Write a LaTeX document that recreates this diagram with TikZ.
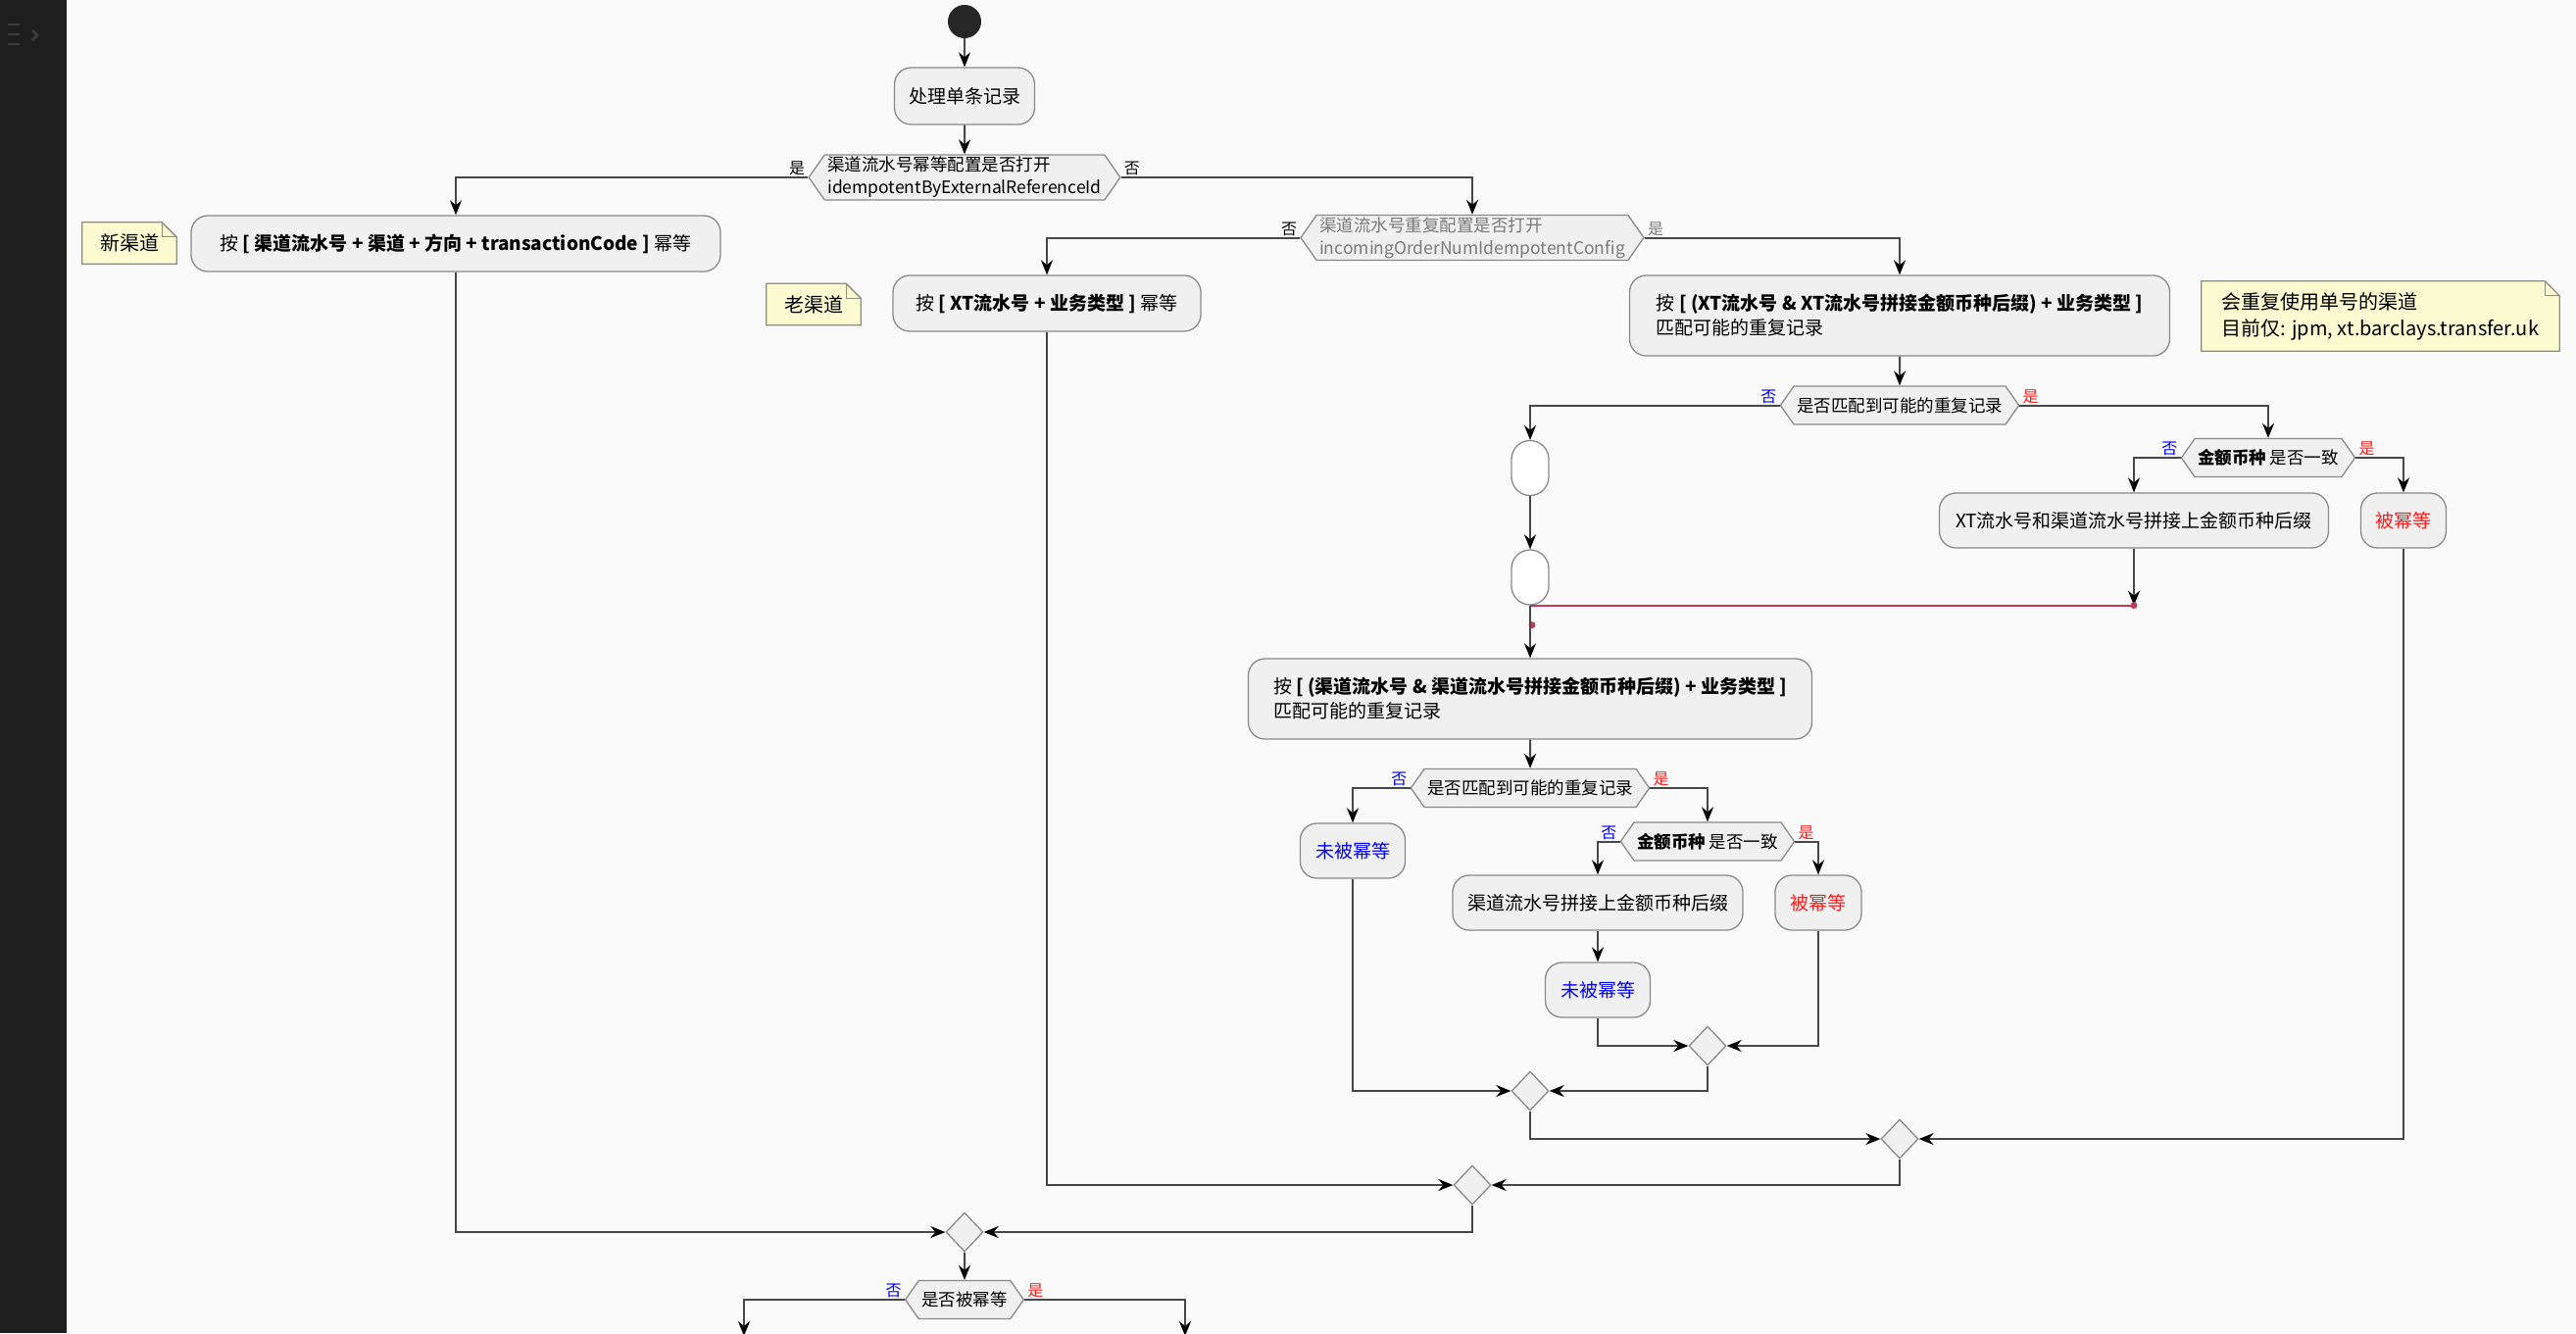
\documentclass[tikz,border=0pt]{standalone}
\usepackage{fontspec}
\setmainfont{Noto Sans CJK SC}
\usepackage{tikz}
\usetikzlibrary{positioning, shapes.geometric, shapes.symbols, arrows.meta, calc}
\usepackage{xcolor}
\definecolor{umlfill}{HTML}{F0F0F0}
\definecolor{umlline}{HTML}{8A8A8A}
\definecolor{flowline}{HTML}{474747}
\definecolor{umlgray}{HTML}{7A7A7A}
\definecolor{notefill}{HTML}{FCFBD2}
\definecolor{noteline}{HTML}{8E8E80}
\definecolor{pagebg}{HTML}{FAFAFA}
\definecolor{sidebar}{HTML}{1E1E1E}
\definecolor{iconline}{HTML}{3C3C3C}
\definecolor{linkred}{HTML}{C0395A}
\definecolor{labblue}{HTML}{0000FF}
\definecolor{labred}{HTML}{FF1A1A}

% yellow note with a folded corner
\newcommand{\dogear}[1]{%
  \fill[pagebg] ([xshift=-15pt]#1.north east) -- (#1.north east) -- ([yshift=-15pt]#1.north east) -- cycle;
  \draw[noteline, line width=1.3pt] (#1.south west) -- (#1.north west) -- ([xshift=-15pt]#1.north east)
    -- ([yshift=-15pt]#1.north east) -- (#1.south east) -- cycle;
  \draw[noteline, line width=1.3pt] ([xshift=-15pt]#1.north east) |- ([yshift=-15pt]#1.north east);
}

\begin{document}
\begin{tikzpicture}[x=1pt, y=-1pt, font=\fontsize{19}{25}\selectfont,
    act/.style={draw=umlline, fill=umlfill, line width=1.3pt, rounded corners=17pt,
      minimum height=56pt, inner xsep=14pt, align=left},
    hole/.style={draw=umlline, fill=white, line width=1.3pt, rounded corners=19pt,
      minimum width=38pt, minimum height=56pt, inner sep=0pt},
    cond/.style={signal, signal to=west and east, signal pointer angle=110,
      draw=umlline, fill=umlfill, line width=1.3pt, inner xsep=3pt, inner ysep=3pt,
      minimum height=39pt, align=left, font=\fontsize{17.5}{23}\selectfont},
    merge/.style={diamond, draw=umlline, fill=umlfill, line width=1.3pt,
      minimum width=38pt, minimum height=40pt, inner sep=0pt},
    memo/.style={fill=notefill, minimum height=42pt, inner xsep=9pt, align=left,
      font=\fontsize{20}{27}\selectfont},
    lblno/.style={text=labblue, inner sep=0pt, font=\fontsize{16}{16}\selectfont},
    lblyes/.style={text=labred, inner sep=0pt, font=\fontsize{16}{16}\selectfont},
    lblblk/.style={text=black, inner sep=0pt, font=\fontsize{16}{16}\selectfont},
    flow/.style={draw=flowline, line width=2pt, -{Stealth[length=15pt, width=12pt, inset=5pt, color=black]}},
    plain/.style={draw=flowline, line width=2pt}]

  \useasboundingbox (0,0) rectangle (2628,1360);
  \fill[pagebg] (0,0) rectangle (2628,1360);
  \fill[sidebar] (0,0) rectangle (68,1360);
  \foreach \yy in {25,35,45} \draw[iconline, line width=2.5pt] (8,\yy) -- (20,\yy);
  \draw[iconline, line width=2.5pt] (33,31) -- (38,36) -- (33,41);

  % main flow
  \node[circle, fill=black!85, minimum size=34pt, inner sep=0pt] (start) at (984,22) {};
  \node[act, minimum width=143pt, minimum height=58pt] (b0) at (984,98) {处理单条记录};
  \node[cond, inner ysep=2pt, minimum height=46pt] (d1) at (984,181)
    {渠道流水号幂等配置是否打开\\idempotentByExternalReferenceId};
  \node[lblblk, above left=2pt and 3pt of d1.west] (d1yes) {是};
  \node[lblblk, above right=2pt and 3pt of d1.east] (d1no) {否};

  \node[act, minimum width=540pt, minimum height=57pt] (b1) at (465,248.5)
    {按 \textbf{[ 渠道流水号 + 渠道 + 方向 + transactionCode ]} 幂等};
  \node[memo, minimum width=96pt] (n1) at (132,248) {新渠道};
  \dogear{n1}

  \node[cond, text=umlgray, inner ysep=2pt, minimum height=46pt] (d2) at (1502,242.5)
    {渠道流水号重复配置是否打开\\incomingOrderNumIdempotentConfig};
  \node[lblblk, above left=2pt and 3pt of d2.west] (d2no) {否};
  \node[lblblk, text=umlgray, above right=2pt and 3pt of d2.east] (d2yes) {是};

  \node[act, minimum width=314pt, minimum height=57pt] (b2) at (1068,309.5)
    {按 \textbf{[ XT流水号 + 业务类型 ]} 幂等};
  \node[memo, minimum width=96pt] (n2) at (830,310.5) {老渠道};
  \dogear{n2}

  \node[act, minimum width=551pt, minimum height=82pt] (b3) at (1938,322)
    {按 \textbf{[ (XT流水号 \& XT流水号拼接金额币种后缀) + 业务类型 ]}\\匹配可能的重复记录};
  \node[memo, minimum width=365pt, minimum height=71pt] (n3) at (2428.5,322.5)
    {会重复使用单号的渠道\\目前仅: jpm, xt.barclays.transfer.uk};
  \dogear{n3}

  % XT match branch
  \node[cond] (d3) at (1938,413.5) {是否匹配到可能的重复记录};
  \node[lblno, above left=2pt and 3pt of d3.west] (d3no) {否};
  \node[lblyes, above right=2pt and 3pt of d3.east] (d3yes) {是};
  \node[hole] (e1) at (1561,477.5) {};
  \node[hole] (e2) at (1561,589) {};
  \node[cond] (d4) at (2314,467) {\textbf{金额币种} 是否一致};
  \node[lblno, above left=2pt and 3pt of d4.west] (d4no) {否};
  \node[lblyes, above right=2pt and 3pt of d4.east] (d4yes) {是};
  \node[act, minimum width=397pt] (b4) at (2177,531) {XT流水号和渠道流水号拼接上金额币种后缀};
  \node[act, minimum width=87pt, text=labred] (b5) at (2452,531) {被幂等};

  % channel match branch
  \node[act, minimum width=575pt, minimum height=82pt] (b6) at (1561,713)
    {按 \textbf{[ (渠道流水号 \& 渠道流水号拼接金额币种后缀) + 业务类型 ]}\\匹配可能的重复记录};
  \node[cond] (d5) at (1561,804) {是否匹配到可能的重复记录};
  \node[lblno, above left=2pt and 3pt of d5.west] (d5no) {否};
  \node[lblyes, above right=2pt and 3pt of d5.east] (d5yes) {是};
  \node[act, minimum width=107pt, text=labblue] (b7) at (1380,868) {未被幂等};
  \node[cond] (d6) at (1742,858.5) {\textbf{金额币种} 是否一致};
  \node[lblno, above left=2pt and 3pt of d6.west] (d6no) {否};
  \node[lblyes, above right=2pt and 3pt of d6.east] (d6yes) {是};
  \node[act, minimum width=296pt] (b8) at (1630,921) {渠道流水号拼接上金额币种后缀};
  \node[act, minimum width=88pt, text=labred] (b9) at (1855,921) {被幂等};
  \node[act, minimum width=107pt, text=labblue] (b10) at (1630,1010) {未被幂等};

  % merges
  \node[merge] (m1) at (1742,1067) {};
  \node[merge] (m2) at (1561,1113) {};
  \node[merge] (m3) at (1938,1162) {};
  \node[merge] (m4) at (1502,1209) {};
  \node[merge] (m5) at (984,1257) {};
  \node[cond] (d7) at (984,1326) {是否被幂等};
  \node[lblno, above left=2pt and 3pt of d7.west] (d7no) {否};
  \node[lblyes, above right=2pt and 3pt of d7.east] (d7yes) {是};
  \coordinate (out1) at (759,1363);
  \coordinate (out2) at (1209,1363);
  \coordinate (rj) at (b4.south |- e2.south);

  % connectors
  \draw[flow] (start) -- (b0);
  \draw[flow] (b0) -- (d1);
  \draw[flow] (d1.west) -| (b1);
  \draw[flow] (d1.east) -| (d2);
  \draw[flow] (d2.west) -| (b2);
  \draw[flow] (d2.east) -| (b3);
  \draw[flow] (b3) -- (d3);
  \draw[flow] (d3.west) -| (e1);
  \draw[flow] (e1) -- (e2);
  \draw[flow] (d3.east) -| (d4);
  \draw[flow] (d4.west) -| (b4);
  \draw[flow] (d4.east) -| (b5);
  \draw[linkred, line width=2pt] (e2.south) -- (rj);
  \draw[flow] (b4) -- (rj);
  \fill[linkred] (rj) circle (3.5pt);
  \fill[linkred] ($(e2.south)+(2,20)$) circle (3.5pt);
  \draw[flow] (e2) -- (b6);
  \draw[flow] (b6) -- (d5);
  \draw[flow] (d5.west) -| (b7);
  \draw[flow] (d5.east) -| (d6);
  \draw[flow] (d6.west) -| (b8);
  \draw[flow] (d6.east) -| (b9);
  \draw[flow] (b8) -- (b10);
  \draw[flow] (b10) |- (m1);
  \draw[flow] (b9) |- (m1);
  \draw[flow] (m1) |- (m2);
  \draw[flow] (b7) |- (m2);
  \draw[flow] (m2) |- (m3);
  \draw[flow] (b5) |- (m3);
  \draw[flow] (m3) |- (m4);
  \draw[flow] (b2) |- (m4);
  \draw[flow] (m4) |- (m5);
  \draw[flow] (b1) |- (m5);
  \draw[flow] (m5) -- (d7);
  \draw[flow] (d7.west) -| (out1);
  \draw[flow] (d7.east) -| (out2);
\end{tikzpicture}
\end{document}
